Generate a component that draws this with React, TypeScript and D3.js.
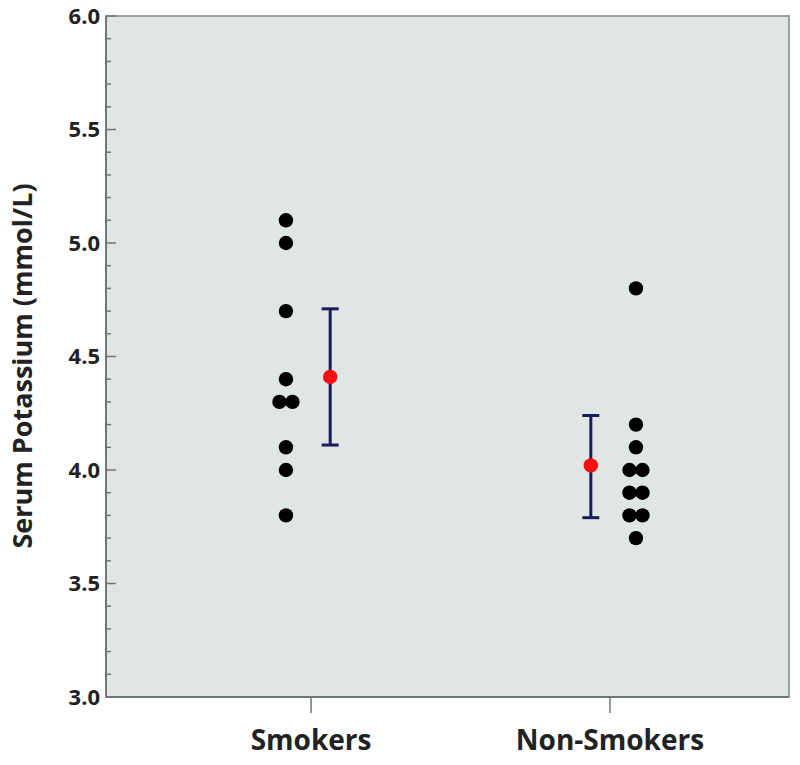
import React from "react";
import * as d3 from "d3";

const categories = ["Smokers", "Non-Smokers"];
const smokers = [5.1, 5.0, 4.7, 4.4, 4.3, 4.3, 4.1, 4.0, 3.8];
const nonSmokers = [4.8, 4.2, 4.1, 4.0, 4.0, 3.9, 3.9, 3.8, 3.8, 3.7];
const means = [4.41, 4.02];
const ciLow = [4.11, 3.79];
const ciHigh = [4.71, 4.24];
const yTicks = [3.0, 3.5, 4.0, 4.5, 5.0, 5.5, 6.0];

const W = 800;
const H = 765;
const left = 106;
const right = 789;
const top = 16;
const bottom = 697;

export default function App() {
  const x = d3.scaleLinear().domain([0.314, 2.599]).range([left, right]);
  const y = d3.scaleLinear().domain([3, 6]).range([bottom, top]);
  const minor = d3.range(30, 61).map((v) => v / 10);
  const groups = [smokers, nonSmokers];
  const dotOffset = [-0.084, 0.087];
  const meanOffset = [0.064, -0.064];

  const dots: { cx: number; cy: number }[] = [];
  groups.forEach((vals, gi) => {
    const counts = d3.rollup(vals, (v) => v.length, (d) => d);
    const seen = new Map<number, number>();
    vals.forEach((v) => {
      const n = counts.get(v) || 1;
      const k = seen.get(v) || 0;
      seen.set(v, k + 1);
      const shift = n > 1 ? (k - (n - 1) / 2) * 13 : 0;
      dots.push({ cx: x(gi + 1 + dotOffset[gi]) + shift, cy: y(v) });
    });
  });

  const font = "'Open Sans', 'DejaVu Sans', sans-serif";

  return (
    <svg width={W} height={H} style={{ position: "absolute", left: 0, top: 0 }}>
      <rect x={0} y={0} width={W} height={H} fill="#ffffff" />
      <rect x={left} y={top} width={right - left} height={bottom - top} fill="#e0e6e4" stroke="#9aa3a0" strokeWidth={2} />
      <line x1={left} x2={left} y1={top} y2={bottom} stroke="#6f7875" strokeWidth={2} />
      <line x1={left} x2={right} y1={bottom} y2={bottom} stroke="#6f7875" strokeWidth={2} />
      {minor.map((v) => {
        const isMajor = Math.abs(v * 2 - Math.round(v * 2)) < 1e-6;
        return (
          <line key={v} x1={left} x2={left + (isMajor ? 10 : 5)} y1={y(v)} y2={y(v)} stroke="#6f7875" strokeWidth={1.5} />
        );
      })}
      {yTicks.map((v) => (
        <text key={v} x={100} y={y(v)} dy="0.36em" textAnchor="end" fontFamily={font} fontWeight="bold" fontSize={22} fill="#222">
          {v.toFixed(1)}
        </text>
      ))}
      {categories.map((c, i) => (
        <g key={c}>
          <line x1={x(i + 1)} x2={x(i + 1)} y1={bottom} y2={bottom + 16} stroke="#6f7875" strokeWidth={1.5} />
          <text x={x(i + 1)} y={750} textAnchor="middle" fontFamily={font} fontWeight="bold" fontSize={28} fill="#222">
            {c}
          </text>
        </g>
      ))}
      <text transform={`translate(32,366) rotate(-90)`} textAnchor="middle" fontFamily={font} fontWeight="bold" fontSize={27} fill="#222">
        Serum Potassium (mmol/L)
      </text>
      {dots.map((d, i) => (
        <circle key={i} cx={d.cx} cy={d.cy} r={7.2} fill="#000" />
      ))}
      {means.map((m, i) => {
        const cx = x(i + 1 + meanOffset[i]);
        return (
          <g key={i}>
            <line x1={cx} x2={cx} y1={y(ciLow[i])} y2={y(ciHigh[i])} stroke="#1c1c5c" strokeWidth={3} />
            <line x1={cx - 8.5} x2={cx + 8.5} y1={y(ciLow[i])} y2={y(ciLow[i])} stroke="#1c1c5c" strokeWidth={3} />
            <line x1={cx - 8.5} x2={cx + 8.5} y1={y(ciHigh[i])} y2={y(ciHigh[i])} stroke="#1c1c5c" strokeWidth={3} />
            <circle cx={cx} cy={y(m)} r={7.2} fill="#f21010" />
          </g>
        );
      })}
    </svg>
  );
}
